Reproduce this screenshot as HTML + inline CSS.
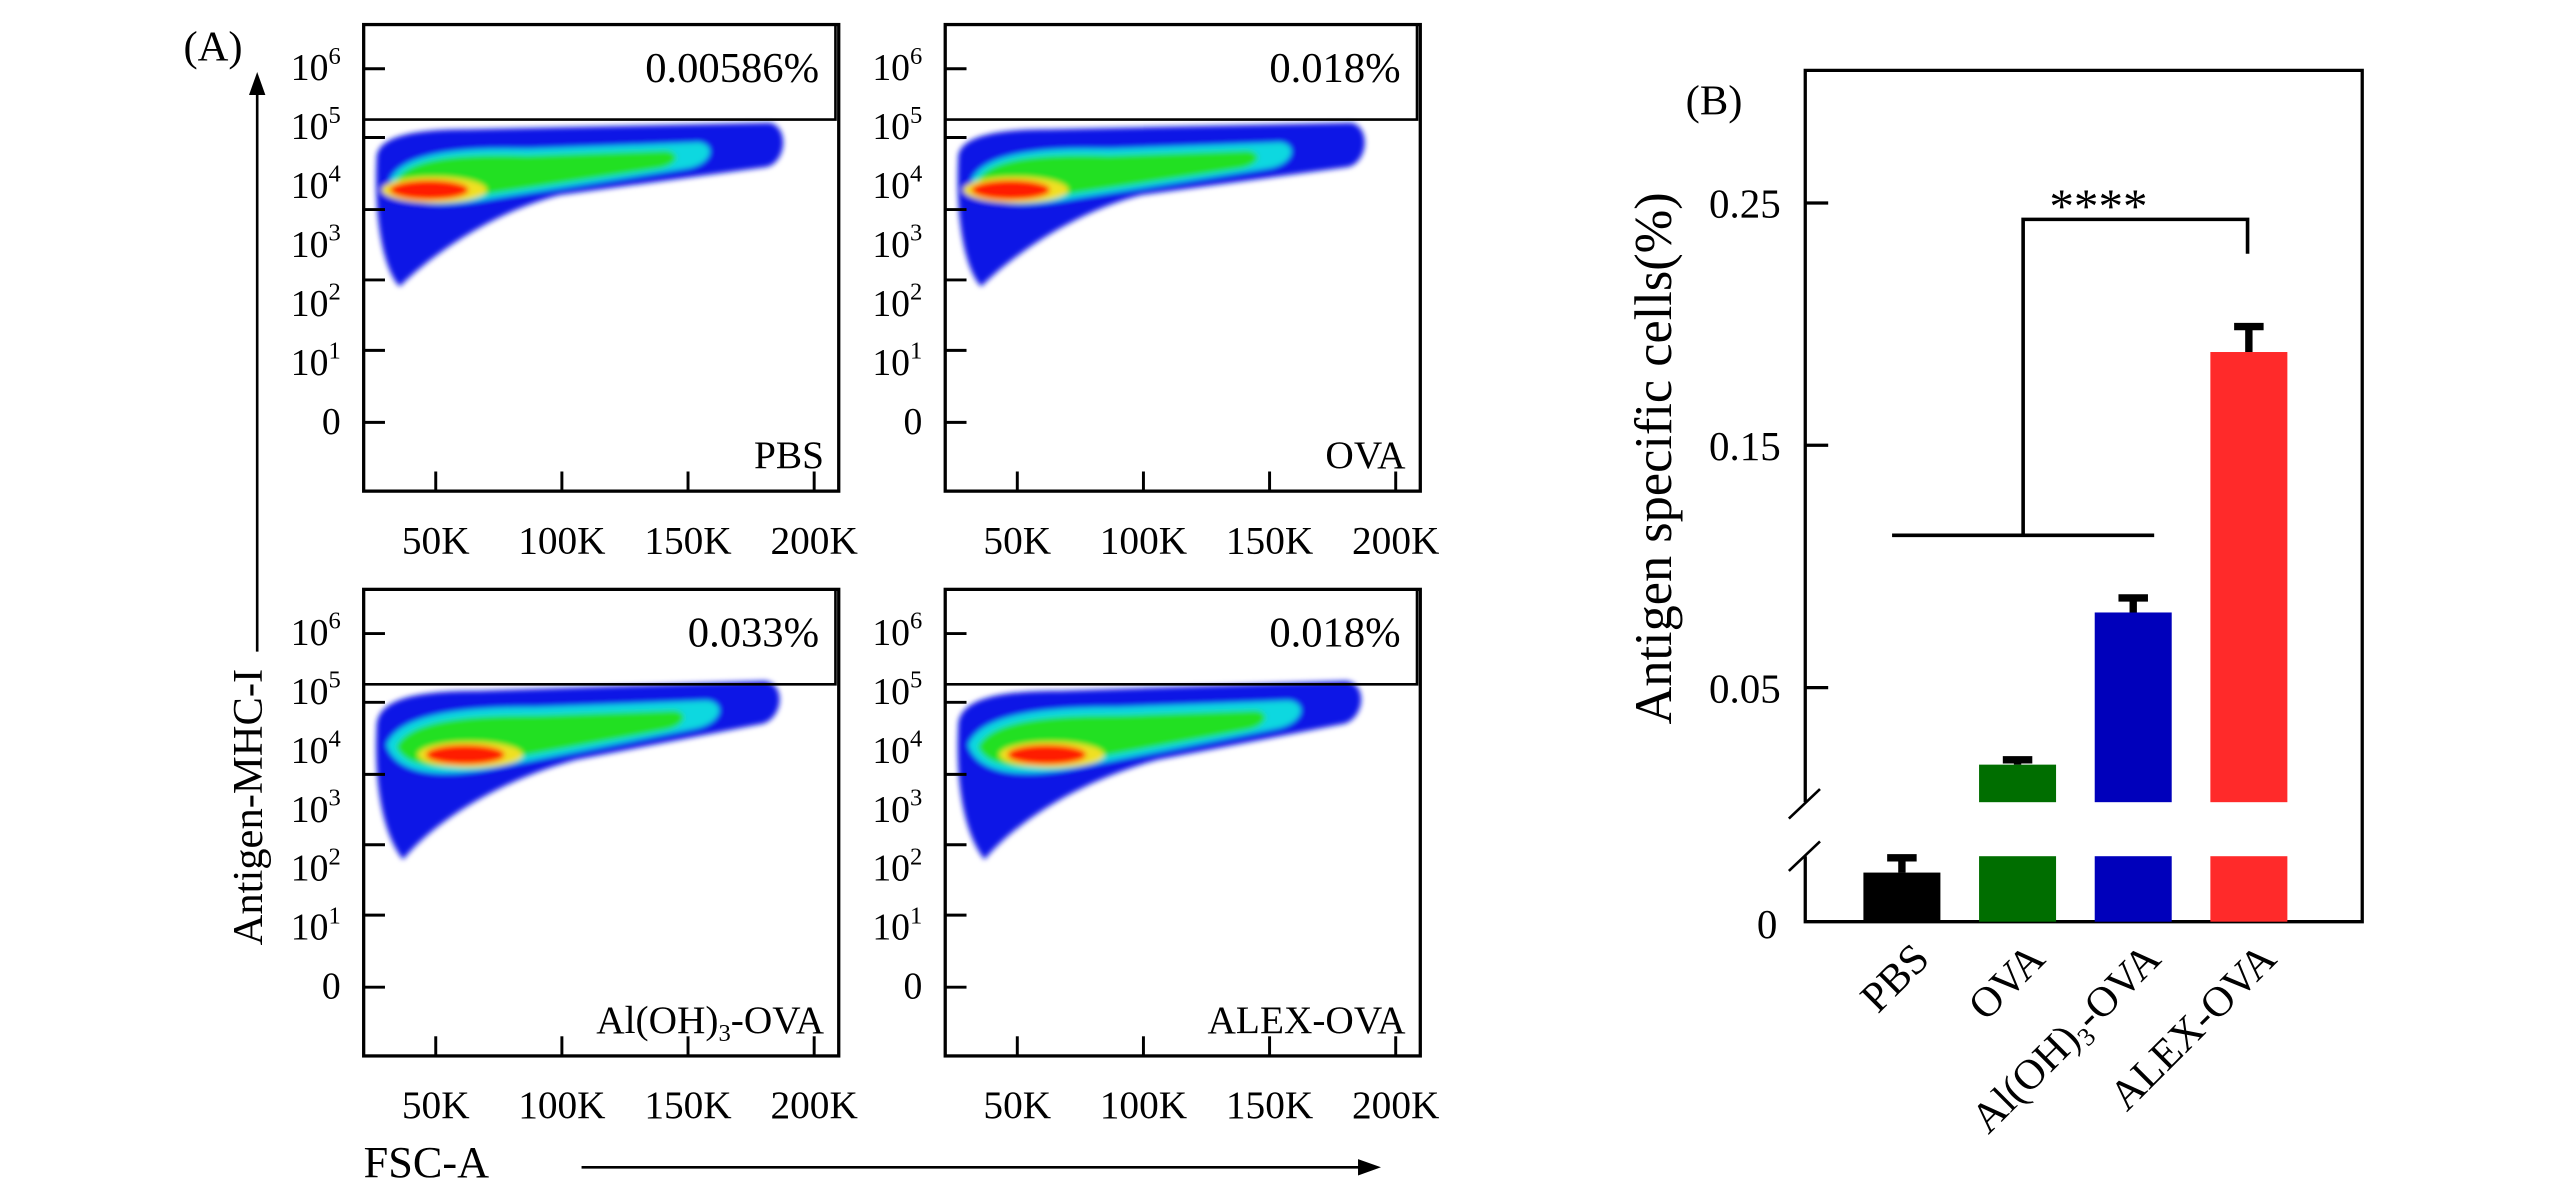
<!DOCTYPE html>
<html><head><meta charset="utf-8"><style>
html,body{margin:0;padding:0;background:#fff;}
svg{display:block;font-family:"Liberation Serif",serif;}
</style></head><body>
<svg id="fig" width="2567" height="1200" viewBox="0 0 1567 733" preserveAspectRatio="none" xmlns="http://www.w3.org/2000/svg">
<defs>
<filter id="soft" x="-10%" y="-20%" width="120%" height="140%"><feGaussianBlur stdDeviation="1.6"/></filter>
</defs>
<text x="112" y="37" font-size="26">(A)</text>
<g id="flow"></g>
<line x1="157" y1="398" x2="157" y2="55" stroke="#000" stroke-width="1.6"/>
<path d="M157,44 L152,58 L162,58 Z" fill="#000"/>
<text transform="translate(160,493) rotate(-90)" text-anchor="middle" font-size="26">Antigen-MHC-I</text>
<text x="222" y="719" font-size="27">FSC-A</text>
<line x1="355" y1="713" x2="832" y2="713" stroke="#000" stroke-width="1.6"/>
<path d="M843,713 L829,708 L829,718 Z" fill="#000"/>
<text x="1029" y="70" font-size="26">(B)</text>
<g id="bars"></g>
</svg>
<script>
// ---------- Panel A data ----------
var flowGroups = ["PBS", "OVA", "Al(OH)3-OVA", "ALEX-OVA"];
var flowPercents = ["0.00586%", "0.018%", "0.033%", "0.018%"];
var flowYTicks = ["6", "5", "4", "3", "2", "1", ""];
var flowXTicks = ["50K", "100K", "150K", "200K"];

// ---------- Panel B data ----------
var barCategories = ["PBS", "OVA", "Al(OH)3-OVA", "ALEX-OVA"];
var barValues = [0.003, 0.0182, 0.081, 0.1885];
var barErrors = [0.0009, 0.002, 0.006, 0.0105];
var barColors = ["#000000", "#006e00", "#0000bb", "#ff2a2a"];
var yTickValues = [0.05, 0.15, 0.25];
var yTickLabels = ["0.05", "0.15", "0.25"];

var NS = "http://www.w3.org/2000/svg";
function mk(tag, attrs, parent) {
  var e = document.createElementNS(NS, tag);
  for (var k in attrs) e.setAttribute(k, attrs[k]);
  if (parent) parent.appendChild(e);
  return e;
}

// ---------- Flow plots ----------
var flow = document.getElementById("flow");
var origins = [[222, 15], [577, 15], [222, 360], [577, 360]];
var W = 290, H = 285;
for (var i = 0; i < 4; i++) {
  var ox = origins[i][0], oy = origins[i][1];
  var g = mk("g", {transform: "translate(" + ox + "," + oy + ")"}, flow);
  
  
  var lower = i >= 2;
  var dens = mk("g", {filter: "url(#soft)"}, g);
  
  
  var blue = lower
    ? "M8,82 C10,66 35,62 70,62 L245,56 C258,58 256,78 244,82 L130,104 C85,116 45,140 24,165 C12,150 6,120 8,82 Z"
    : "M8,80 C10,68 32,64 62,64 L248,60 C260,63 258,84 246,87 L120,104 C80,114 42,140 22,160 C12,150 6,118 8,80 Z";
  mk("path", {d: blue, fill: "#0a14e6"}, dens);
  var cyan = lower
    ? "M14,95 C22,76 60,72 105,72 L210,68 C222,70 218,82 202,85 L85,108 C50,116 20,114 14,95 Z"
    : "M16,95 C24,78 60,75 100,76 L205,72 C216,74 212,86 196,88 L80,106 C48,112 22,112 16,95 Z";
  mk("path", {d: cyan, fill: "#10d8e0"}, dens);
  var green = lower
    ? "M20,96 C28,80 62,77 105,77 L190,74 C200,76 195,84 184,86 L85,104 C52,111 25,110 20,96 Z"
    : "M20,95 C28,81 60,79 100,80 L185,77 C195,79 191,86 180,88 L80,103 C50,109 25,108 20,95 Z";
  mk("path", {d: green, fill: "#22e022"}, dens);
  var cx = lower ? 62 : 40, cy = 101;
  mk("ellipse", {cx: cx + 3, cy: cy, rx: 32, ry: 8, fill: "#f0e020"}, dens);
  mk("ellipse", {cx: cx, cy: cy, rx: 24, ry: 6, fill: "#ff1a00"}, dens);
  var fr = mk("rect", {x: 0, y: 0, width: W, height: H, fill: "none", stroke: "#000", "stroke-width": 2}, g);
  
  
  var gate = mk("path", {d: "M0,58 L288,58 L288,0", fill: "none", stroke: "#000", "stroke-width": 1.6}, g);
  
  
  var tickYs = [27, 69, 113, 156, 199, 243];
  for (var t = 0; t < tickYs.length; t++) {
    mk("line", {x1: 0, y1: tickYs[t], x2: 13, y2: tickYs[t], stroke: "#000", "stroke-width": 1.8}, g);
  }
  for (var t = 0; t < flowYTicks.length; t++) {
    var ly = 34 + t * 36;
    var tx = mk("text", {x: -14, y: t == 6 ? 250 : ly, "text-anchor": "end", "font-size": 23}, g);
    
    
    if (flowYTicks[t] === "") { tx.textContent = "0"; }
    else {
      tx.appendChild(document.createTextNode("10"));
      var sp = mk("tspan", {dy: -10, "font-size": 15}, tx);
      sp.textContent = flowYTicks[t];
    }
  }
  for (var t = 0; t < flowXTicks.length; t++) {
    var xx = 44 + t * 77;
    mk("line", {x1: xx, y1: H, x2: xx, y2: H - 12, stroke: "#000", "stroke-width": 1.8}, g);
    var xl = mk("text", {x: xx, y: H + 38, "text-anchor": "middle", "font-size": 24}, g);
    
    
    xl.textContent = flowXTicks[t];
  }
  var pc = mk("text", {x: W - 12, y: 35, "text-anchor": "end", "font-size": 26}, g);
  
  
  pc.textContent = flowPercents[i];
  var nm = mk("text", {x: W - 9, y: 271, "text-anchor": "end", "font-size": 24}, g);
  
  
  if (flowGroups[i].indexOf("(OH)3") >= 0) {
    nm.appendChild(document.createTextNode("Al(OH)"));
    var s3 = mk("tspan", {dy: 5, "font-size": 15}, nm); s3.textContent = "3";
    var r3 = mk("tspan", {dy: -5}, nm); r3.textContent = "-OVA";
  } else nm.textContent = flowGroups[i];
}

// ---------- Bar chart ----------
var bars = document.getElementById("bars");
var AX = 1102, TOP = 43, RIGHT = 1442, BASE = 563;
var BREAK_LO = 523, BREAK_HI = 490, BREAK_V = 0.004;
function yScale(v) {
  if (v <= BREAK_V) return BASE - v / BREAK_V * (BASE - BREAK_LO);
  return 420 - (v - 0.05) * 1480;
}
function xCenter(i) { return 1161 + i * 70.6; }
var BW = 47;
var axisPath = "M" + AX + "," + BREAK_HI + " L" + AX + "," + TOP + " L" + RIGHT + "," + TOP + " L" + RIGHT + "," + BASE + " L" + AX + "," + BASE + " L" + AX + "," + BREAK_LO;
var ax = mk("path", {d: axisPath, fill: "none", stroke: "#000", "stroke-width": 2}, bars);


var br = mk("path", {d: "M1092,500 L1111,482 M1092,532 L1111,514", stroke: "#000", "stroke-width": 1.6, fill: "none"}, bars);


for (var t = 0; t < yTickValues.length; t++) {
  var yy = yScale(yTickValues[t]);
  mk("line", {x1: AX, y1: yy, x2: AX + 14, y2: yy, stroke: "#000", "stroke-width": 2}, bars);
  var yl = mk("text", {x: 1087, y: yy + 9, "text-anchor": "end", "font-size": 25}, bars);
  
  
  yl.textContent = yTickLabels[t];
}
var z = mk("text", {x: 1085, y: BASE + 10, "text-anchor": "end", "font-size": 25}, bars);


z.textContent = "0";
var yt = mk("text", {transform: "translate(1020,280) rotate(-90)", "text-anchor": "middle", "font-size": 32}, bars);


yt.textContent = "Antigen specific cells(%)";

for (var i = 0; i < barCategories.length; i++) {
  var c = xCenter(i), v = barValues[i];
  var bg = mk("g", {}, bars);
  
  
  if (v > BREAK_V) {
    mk("rect", {x: c - BW / 2, y: BREAK_LO, width: BW, height: BASE - BREAK_LO, fill: barColors[i]}, bg);
    mk("rect", {x: c - BW / 2, y: yScale(v), width: BW, height: BREAK_HI - yScale(v), fill: barColors[i]}, bg);
  } else {
    mk("rect", {x: c - BW / 2, y: yScale(v), width: BW, height: BASE - yScale(v), fill: barColors[i]}, bg);
  }
  var ye = yScale(v + barErrors[i]);
  var eb = mk("path", {d: "M" + c + "," + yScale(v) + " L" + c + "," + ye + " M" + (c - 9) + "," + ye + " L" + (c + 9) + "," + ye, stroke: "#000", "stroke-width": 4.5, fill: "none"}, bg);
  
  
  var lx = c + 18, ly = BASE + 24;
  var lab = mk("text", {transform: "translate(" + lx + "," + ly + ") rotate(-45)", "text-anchor": "end", "font-size": 26}, bars);
  
  
  if (barCategories[i].indexOf("(OH)3") >= 0) {
    lab.appendChild(document.createTextNode("Al(OH)"));
    var s = mk("tspan", {dy: 5, "font-size": 16}, lab); s.textContent = "3";
    var r = mk("tspan", {dy: -5}, lab); r.textContent = "-OVA";
  } else lab.textContent = barCategories[i];
}
var sig = mk("path", {d: "M1155,327 L1315,327 M1235,327 L1235,134 L1372,134 L1372,155", stroke: "#000", "stroke-width": 2.2, fill: "none"}, bars);


var st = mk("text", {x: 1281, y: 136, "text-anchor": "middle", "font-size": 30}, bars);


st.textContent = "****";
</script>
</body></html>
